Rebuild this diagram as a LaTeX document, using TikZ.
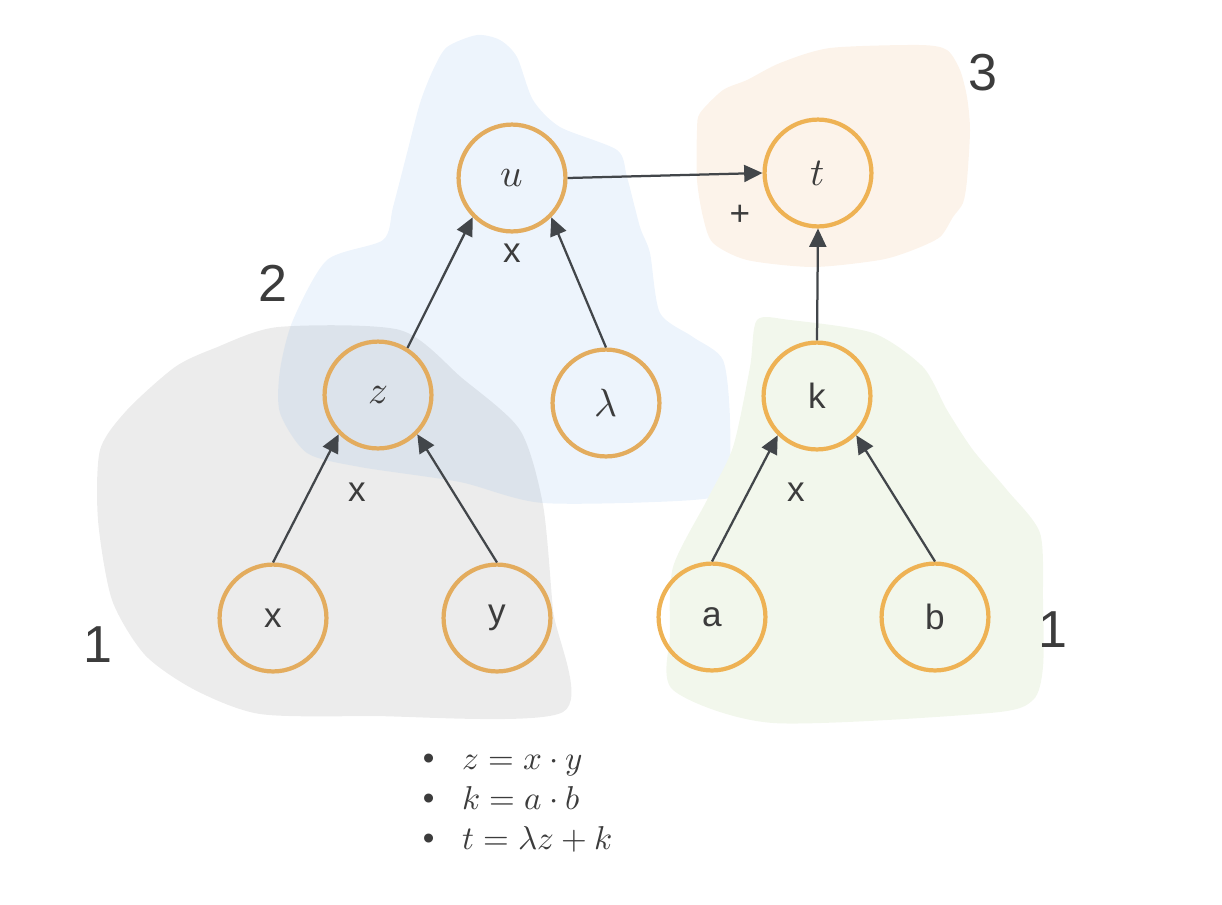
\documentclass[tikz,border=0pt]{standalone}
\usepackage{fontspec}
\usepackage{unicode-math}
\setmainfont{Liberation Sans}
\setmathfont{Latin Modern Math}
\usetikzlibrary{arrows.meta}
\definecolor{ringcol}{RGB}{227,172,94}
\definecolor{ringlit}{RGB}{238,178,84}
\definecolor{inkcol}{RGB}{60,60,60}
\definecolor{arrowcol}{RGB}{66,70,74}
\definecolor{greyblob}{RGB}{236,236,236}
\definecolor{blueblob}{RGB}{135,182,235}
\definecolor{peachblob}{RGB}{252,243,234}
\definecolor{greenblob}{RGB}{242,247,236}
\tikzset{
  var/.style={circle, draw=ringcol, line width=3pt, minimum size=76pt, inner sep=0pt,
    text=inkcol, font=\fontsize{25}{30}\selectfont},
  mvar/.style={var, font=\fontsize{28}{30}\selectfont},
  flow/.style={draw=arrowcol, line width=1.6pt},
  oplabel/.style={text=inkcol, font=\fontsize{25}{30}\selectfont},
  stage/.style={text=inkcol, font=\fontsize{37}{44}\selectfont}
}
\begin{document}
\begin{tikzpicture}[x=0.025cm, y=-0.025cm, >={Triangle[length=13pt,width=12pt]}]
    \useasboundingbox (0,0) rectangle (1222,904);
    % shaded groups
    \fill[greyblob] plot[smooth cycle, tension=.45] coordinates {(278,327) (400,330) (462,378) (520,430) (543,505) (553,610) (563,712) (370,716) (260,714) (195,690) (145,655) (112,600) (98,520) (100,450) (127,410) (175,367) (215,348)};
    \fill[blueblob, fill opacity=.15] plot[smooth cycle, tension=.45] coordinates {(447,47) (477,35) (500,40) (517,57) (533,100) (560,127) (617,150) (627,177) (640,227) (650,253) (660,313) (693,337) (723,360) (730,420) (727,487) (693,500) (543,503) (460,482) (360,467) (307,453) (280,413) (280,370) (293,320) (327,260) (383,240) (393,207) (407,153) (420,103) (433,70)};
    \fill[peachblob] plot[smooth cycle, tension=.45] coordinates {(700,113) (723,90) (747,80) (780,63) (830,48) (920,45) (947,50) (960,70) (967,97) (970,130) (967,180) (963,203) (953,217) (940,237) (913,250) (880,260) (813,267) (747,260) (713,243) (703,217) (697,180) (697,130)};
    \fill[greenblob] plot[smooth cycle, tension=.45] coordinates {(757,320) (790,320) (873,333) (923,367) (947,410) (973,450) (1007,490) (1040,533) (1043,600) (1043,667) (1033,700) (990,713) (773,723) (673,690) (670,633) (673,567) (707,500) (733,447) (750,367)};
    % variables
    \node[mvar] (A0_0) at (512,178) {$u$};
    \node[mvar, draw=ringlit] (A0_1) at (818,173) {$t$};
    \node[mvar] (A1_0) at (378,395) {$z$};
    \node[mvar] (A1_1) at (606,403) {$\lambda$};
    \node[var, draw=ringlit] (A1_2) at (817,396) {k};
    \node[var] (A2_0) at (273,618) {x};
    \node[var] (A2_1) at (497,618) {y};
    \node[var, draw=ringlit] (A2_2) at (712,617) {a};
    \node[var, draw=ringlit] (A2_3) at (935,617) {b};
    \path (A2_0.north) edge [->,flow] (A1_0.south west);
    \path (A2_1.north) edge [->,flow] (A1_0.south east);
    \path (A1_0.58) edge [->,flow] (A0_0.south west);
    \path (A1_1.north) edge [->,flow] (A0_0.south east);
    \path (A0_0.east) edge [->,flow] (A0_1.west);
    \path (A2_2.north) edge [->,flow] (A1_2.south west);
    \path (A2_3.north) edge [->,flow] (A1_2.south east);
    \path (A1_2.north) edge [->,flow] (A0_1.south);
    % operations and stages
    \node[oplabel] (op_u) at (512,253) {x};
    \node[oplabel] (op_z) at (357,492) {x};
    \node[oplabel] (op_k) at (796,492) {x};
    \node[oplabel] (op_t) at (740,215) {+};
    \node[stage] (S_2) at (273,283) {2};
    \node[stage] (S_1l) at (98,645) {1};
    \node[stage] (S_1r) at (1053,630) {1};
    \node[stage] (S_3) at (983,73) {3};
    \node[anchor=west, align=left, text=inkcol, font=\fontsize{23.5}{28.5}\selectfont] (rules) at (418,803)
      {\textbullet\hspace{20pt}$z = x\cdot y$\\ \textbullet\hspace{20pt}$k = a\cdot b$\\ \textbullet\hspace{20pt}$t = \lambda z + k$};
  \end{tikzpicture}
\end{document}
